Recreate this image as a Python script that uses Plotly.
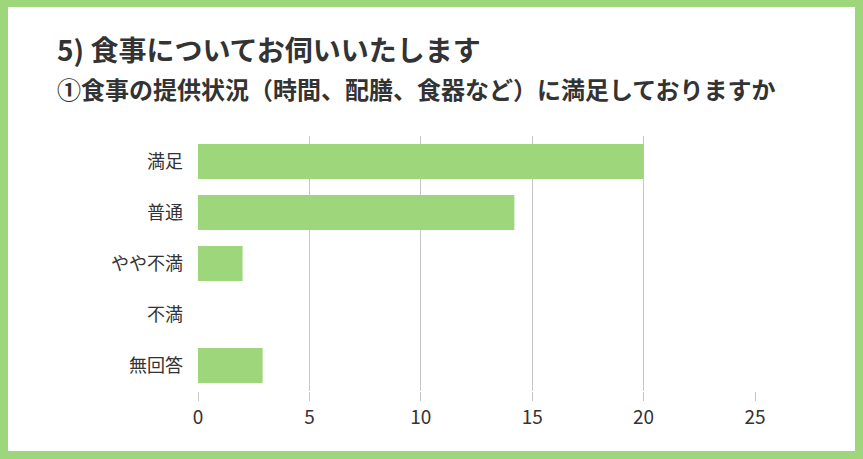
import plotly.graph_objects as go

categories = ["満足", "普通", "やや不満", "不満", "無回答"]
values = [20, 14.2, 2, 0, 2.9]
x_ticks = [0, 5, 10, 15, 20, 25]
title_main = "5) 食事についてお伺いいたします"
title_sub = "①食事の提供状況（時間、配膳、食器など）に満足しておりますか"

W, H = 863, 459
L, R, T, B = 198, 108, 136, 68
PW, PH = W - L - R, H - T - B

def px(x):
    return (x - L) / PW

def py(y):
    return (H - B - y) / PH

GREEN = "#9dd67b"
TEXT = "#333333"
FONT = "Noto Sans CJK JP"

fig = go.Figure(go.Bar(
    x=values, y=categories, orientation="h",
    marker=dict(color=GREEN, line=dict(width=0)),
    hoverinfo="x+y",
))

fig.update_layout(
    width=W, height=H,
    margin=dict(l=L, r=R, t=T, b=B, pad=0),
    paper_bgcolor=GREEN,
    plot_bgcolor="rgba(0,0,0,0)",
    bargap=0.31,
    showlegend=False,
    font=dict(family=FONT, color=TEXT),
    xaxis=dict(
        range=[0, 25], tickvals=x_ticks, ticktext=[str(v) for v in x_ticks],
        showgrid=True, gridcolor="#c8c8c8", gridwidth=1,
        zeroline=False, showline=False,
        ticks="outside", ticklen=9, tickcolor="#c8c8c8", tickwidth=1,
        tickfont=dict(size=19, color=TEXT, family=FONT),
        fixedrange=True,
    ),
    yaxis=dict(
        autorange="reversed", showgrid=False, zeroline=False, showline=False,
        ticks="", ticklabelstandoff=14,
        tickfont=dict(size=18, color=TEXT, family=FONT),
        fixedrange=True,
    ),
    shapes=[dict(
        type="rect", xref="paper", yref="paper", layer="below",
        x0=px(8), x1=px(855), y0=py(451), y1=py(7),
        fillcolor="white", line=dict(width=0),
    )],
    annotations=[
        dict(text=title_main, xref="paper", yref="paper", x=px(55), y=py(49),
             xanchor="left", yanchor="middle", showarrow=False,
             font=dict(size=28, color=TEXT, family=FONT, weight="bold")),
        dict(text=title_sub, xref="paper", yref="paper", x=px(55), y=py(88),
             xanchor="left", yanchor="middle", showarrow=False,
             font=dict(size=24, color=TEXT, family=FONT, weight="bold")),
    ],
)

fig.write_html(
    "out.html",
    config={"displayModeBar": False},
    post_script="document.body.style.margin='0';document.body.style.padding='0';",
)
